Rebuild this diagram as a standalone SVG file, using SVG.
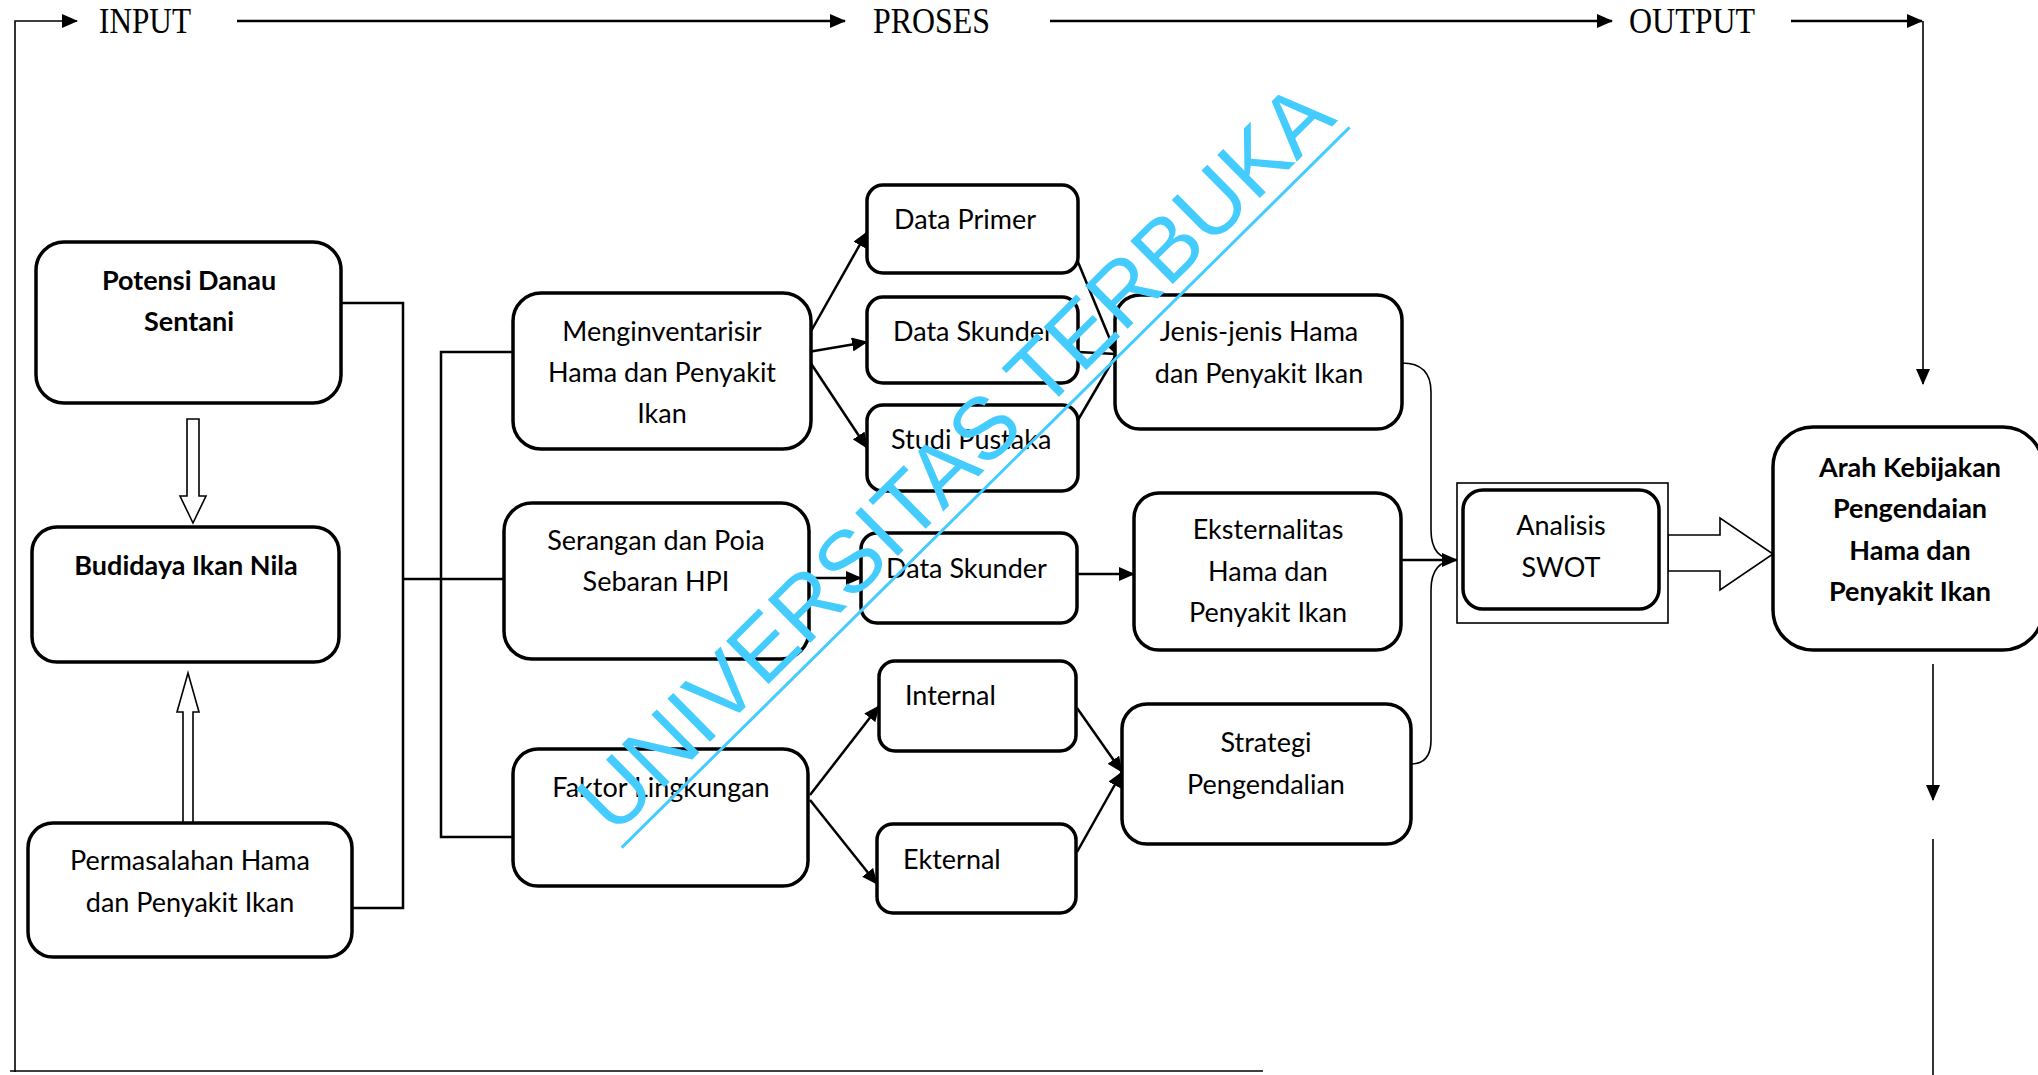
<svg xmlns="http://www.w3.org/2000/svg" width="2038" height="1075" viewBox="0 0 2038 1075">
<defs>
<marker id="ah" markerUnits="userSpaceOnUse" markerWidth="16" markerHeight="14" refX="15" refY="7" orient="auto">
<path d="M0,0 L16,7 L0,14 Z" fill="#000"/>
</marker>
<style>
.box{fill:#fff;stroke:#000;stroke-width:3.5}
.t{font-family:Lato,"Liberation Sans",sans-serif;font-size:27px;fill:#000}
.b{font-family:Lato,"Liberation Sans",sans-serif;font-size:27px;font-weight:bold;fill:#000}
.c{text-anchor:middle}
.hd{font-family:"Liberation Serif",serif;font-size:35px;fill:#000}
.ln{fill:none;stroke:#000;stroke-width:2.5}
.th{fill:none;stroke:#000;stroke-width:1.6}
.hol{fill:#fff;stroke:#000;stroke-width:1.6}
.wm{font-family:"Liberation Sans",Arial,sans-serif;font-size:88px;fill:#44ccff}
</style>
</defs>
<rect width="2038" height="1075" fill="#fff"/>

<g id="headers">
<text class="hd" x="99" y="33" textLength="92" lengthAdjust="spacingAndGlyphs">INPUT</text>
<text class="hd" x="873" y="33" textLength="117" lengthAdjust="spacingAndGlyphs">PROSES</text>
<text class="hd" x="1629" y="33" textLength="126" lengthAdjust="spacingAndGlyphs">OUTPUT</text>
</g>

<g id="connectors">
<path class="th" d="M15,1072 V21 H77" marker-end="url(#ah)"/>
<path class="ln" d="M237,21 H845" marker-end="url(#ah)"/>
<path class="ln" d="M1050,21 H1612" marker-end="url(#ah)"/>
<path class="ln" d="M1791,21 H1922" marker-end="url(#ah)"/>
<path class="th" d="M1923,21 V384" marker-end="url(#ah)"/>
<path class="th" d="M1933,664 V800" marker-end="url(#ah)"/>
<path class="th" d="M1933,839 V1075"/>
<path class="th" d="M10,1071 H1263"/>

<polygon class="hol" points="187,419 199,419 199,496 206,496 193,523 180,496 187,496"/>
<polygon class="hol" points="183,823 193,823 193,712 199,712 188,673 177,712 183,712"/>

<path class="ln" d="M341,303 H403 V908 H352"/>
<path class="ln" d="M403,579 H504"/>
<path class="ln" d="M513,352 H441 V837 H513"/>

<path class="ln" d="M810,333 L867,232" marker-end="url(#ah)"/>
<path class="ln" d="M808,352 L867,342" marker-end="url(#ah)"/>
<path class="ln" d="M810,362 L867,448" marker-end="url(#ah)"/>
<path class="ln" d="M1078,262 L1116,354" marker-end="url(#ah)"/>
<path class="ln" d="M1078,352 L1116,354"/>
<path class="ln" d="M1078,420 L1116,355"/>

<path class="ln" d="M809,578 H861" marker-end="url(#ah)"/>
<path class="ln" d="M1077,574 H1134" marker-end="url(#ah)"/>
<path class="ln" d="M810,795 L879,706" marker-end="url(#ah)"/>
<path class="ln" d="M810,800 L877,884" marker-end="url(#ah)"/>
<path class="ln" d="M1077,708 L1122,772" marker-end="url(#ah)"/>
<path class="ln" d="M1077,852 L1122,772" marker-end="url(#ah)"/>

<path class="th" d="M1402,363 Q1431,363 1431,392 V530 Q1431,560 1457,560"/>
<path class="th" d="M1411,764 Q1431,764 1431,740 V590 Q1431,560 1457,560"/>
<path class="ln" d="M1401,560 H1457" marker-end="url(#ah)"/>

<polygon class="hol" points="1668,535 1720,535 1720,518 1773,554 1720,590 1720,571 1668,571"/>
</g>

<g id="potensi">
<rect class="box" x="36" y="242" width="305" height="161" rx="28"/>
<text class="b c" x="189" y="290">Potensi Danau</text>
<text class="b c" x="189" y="331">Sentani</text>
</g>
<g id="budidaya">
<rect class="box" x="32" y="527" width="307" height="135" rx="25"/>
<text class="b c" x="186" y="575">Budidaya Ikan Nila</text>
</g>
<g id="permasalahan">
<rect class="box" x="28" y="823" width="324" height="134" rx="25"/>
<text class="t c" x="190" y="870">Permasalahan Hama</text>
<text class="t c" x="190" y="912">dan Penyakit Ikan</text>
</g>

<g id="menginventarisir">
<rect class="box" x="513" y="293" width="298" height="156" rx="28"/>
<text class="t c" x="662" y="341">Menginventarisir</text>
<text class="t c" x="662" y="382">Hama dan Penyakit</text>
<text class="t c" x="662" y="423">Ikan</text>
</g>
<g id="serangan">
<rect class="box" x="504" y="503" width="305" height="156" rx="28"/>
<text class="t c" x="656" y="550">Serangan dan Poia</text>
<text class="t c" x="656" y="591">Sebaran HPI</text>
</g>
<g id="faktor">
<rect class="box" x="513" y="749" width="295" height="137" rx="25"/>
<text class="t c" x="661" y="797">Faktor Lingkungan</text>
</g>

<g id="data-primer">
<rect class="box" x="867" y="185" width="211" height="88" rx="16"/>
<text class="t" x="894" y="229">Data Primer</text>
</g>
<g id="data-skunder-1">
<rect class="box" x="867" y="297" width="211" height="86" rx="16"/>
<text class="t" x="893" y="341">Data Skunder</text>
</g>
<g id="studi-pustaka">
<rect class="box" x="867" y="405" width="211" height="86" rx="16"/>
<text class="t" x="891" y="449">Studi Pustaka</text>
</g>
<g id="data-skunder-2">
<rect class="box" x="861" y="533" width="216" height="90" rx="16"/>
<text class="t" x="886" y="578">Data Skunder</text>
</g>
<g id="internal">
<rect class="box" x="879" y="661" width="197" height="90" rx="16"/>
<text class="t" x="905" y="705">Internal</text>
</g>
<g id="ekternal">
<rect class="box" x="877" y="824" width="199" height="89" rx="16"/>
<text class="t" x="903" y="869">Ekternal</text>
</g>

<g id="jenis">
<rect class="box" x="1115" y="295" width="287" height="134" rx="25"/>
<text class="t c" x="1259" y="341">Jenis-jenis Hama</text>
<text class="t c" x="1259" y="383">dan Penyakit Ikan</text>
</g>
<g id="eksternalitas">
<rect class="box" x="1134" y="493" width="267" height="157" rx="25"/>
<text class="t c" x="1268" y="539">Eksternalitas</text>
<text class="t c" x="1268" y="581">Hama dan</text>
<text class="t c" x="1268" y="622">Penyakit Ikan</text>
</g>
<g id="strategi">
<rect class="box" x="1122" y="704" width="289" height="140" rx="25"/>
<text class="t c" x="1266" y="752">Strategi</text>
<text class="t c" x="1266" y="794">Pengendalian</text>
</g>

<g id="swot">
<rect x="1457" y="483" width="211" height="140" fill="#fff" stroke="#000" stroke-width="1.6"/>
<rect class="box" x="1463" y="490" width="196" height="119" rx="20"/>
<text class="t c" x="1561" y="535">Analisis</text>
<text class="t c" x="1561" y="577">SWOT</text>
</g>

<g id="arah">
<rect class="box" x="1773" y="427" width="270" height="223" rx="40"/>
<text class="b c" x="1910" y="477">Arah Kebijakan</text>
<text class="b c" x="1910" y="518">Pengendaian</text>
<text class="b c" x="1910" y="560">Hama dan</text>
<text class="b c" x="1910" y="601">Penyakit Ikan</text>
</g>

<g id="watermark" transform="translate(614,837) rotate(-44.7)">
<text class="wm" x="0" y="0">UNIVERSITAS TERBUKA</text>
<line x1="-2" y1="13" x2="1022" y2="13" stroke="#44ccff" stroke-width="3"/>
</g>
</svg>
